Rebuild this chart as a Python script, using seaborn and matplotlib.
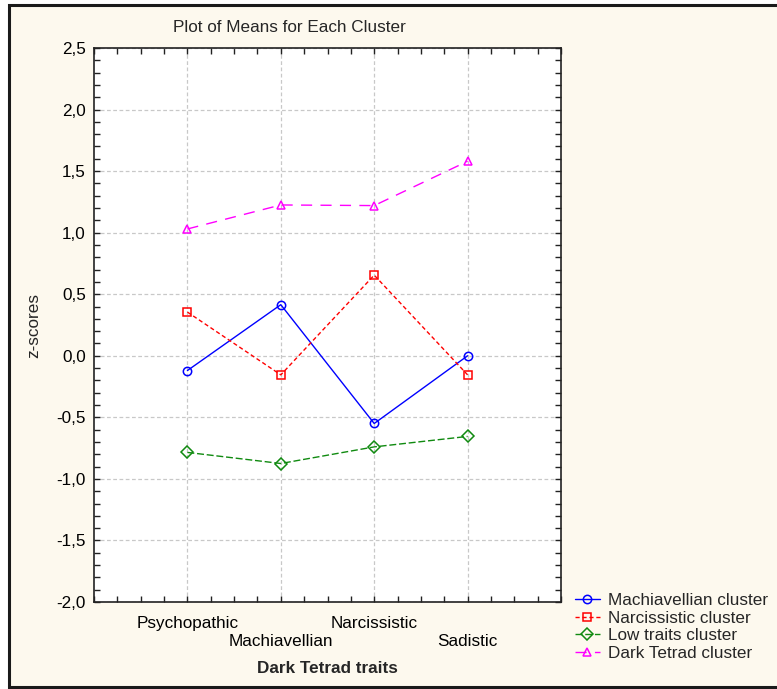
import matplotlib
matplotlib.use("Agg")
import matplotlib.pyplot as plt
import matplotlib.ticker as mticker
from matplotlib.patches import Rectangle
import seaborn as sns
import pandas as pd

traits = ["Psychopathic", "Machiavellian", "Narcissistic", "Sadistic"]
clusters = ["Machiavellian cluster", "Narcissistic cluster",
            "Low traits cluster", "Dark Tetrad cluster"]
machiavellian = [-0.12, 0.415, -0.55, 0.0]
narcissistic = [0.355, -0.155, 0.655, -0.155]
low_traits = [-0.785, -0.875, -0.74, -0.655]
dark_tetrad = [1.03, 1.225, 1.22, 1.58]

series = [machiavellian, narcissistic, low_traits, dark_tetrad]
rows = []
for name, vals in zip(clusters, series):
    for t, v in zip(traits, vals):
        rows.append({"trait": t, "cluster": name, "z": v})
df = pd.DataFrame(rows)

sns.set_theme(style="white")
plt.rcParams["font.family"] = ["Liberation Sans", "DejaVu Sans"]
FS = 12.3

colors = {clusters[0]: "#0000FF", clusters[1]: "#FF0000",
          clusters[2]: "#108A10", clusters[3]: "#FF00FF"}
markers = {clusters[0]: "o", clusters[1]: "s", clusters[2]: "D", clusters[3]: "^"}
dashes = {clusters[0]: "", clusters[1]: (3, 2), clusters[2]: (5, 2), clusters[3]: (8, 6)}
msizes = {clusters[0]: 6, clusters[1]: 6, clusters[2]: 6, clusters[3]: 6}

fig = plt.figure(figsize=(7.77, 6.89), dpi=100, facecolor="white")
# figure frame
fig.patches.append(Rectangle((9 / 777, 2 / 689), 1.0, 682 / 689,
                             transform=fig.transFigure, facecolor="#FDF9EE",
                             edgecolor="#1a1a1a", linewidth=2.2, zorder=-10))

ax = fig.add_axes([94 / 777, 1 - 602 / 689, (561 - 94) / 777, (602 - 48) / 689])
ax.set_facecolor("white")

sns.lineplot(data=df, x="trait", y="z", hue="cluster", style="cluster",
             hue_order=clusters, style_order=clusters, palette=colors,
             markers=markers, dashes=dashes, linewidth=1.0, legend=False,
             sort=False, ax=ax, zorder=3)

for line, name in zip(ax.get_lines(), clusters):
    c = colors[name]
    line.set_markerfacecolor("none")
    line.set_markeredgecolor(c)
    line.set_markeredgewidth(1.1)
    line.set_markersize(msizes[name])
    line.set_label(name)

ax.set_xlim(-1, 4)
ax.set_ylim(-2.0, 2.5)
ax.yaxis.set_major_locator(mticker.MultipleLocator(0.5))
ax.yaxis.set_minor_locator(mticker.MultipleLocator(0.1))
ax.yaxis.set_major_formatter(mticker.FuncFormatter(lambda v, p: f"{v:.1f}".replace(".", ",")))
ax.set_xticks(range(len(traits)))
ax.set_xticklabels([t if i % 2 == 0 else "\n" + t for i, t in enumerate(traits)])
ax.xaxis.set_minor_locator(mticker.MultipleLocator(0.25))

ax.tick_params(which="both", direction="in", top=True, right=True,
               bottom=True, left=True, color="#222222", labelsize=FS)
ax.tick_params(which="major", length=4, width=1)
ax.tick_params(which="minor", length=4, width=1)
ax.tick_params(axis="x", which="major", pad=10)
ax.tick_params(axis="y", which="major", pad=6)

ax.grid(True, which="major", color="#C8C8C8", linestyle=(0, (3, 2)), linewidth=0.9)
for s in ax.spines.values():
    s.set_color("#222222")
    s.set_linewidth(1.2)
    s.set_visible(True)

for lab in ax.get_xticklabels() + ax.get_yticklabels():
    lab.set_color("black")
for lab in ax.get_xticklabels():
    lab.set_linespacing(1.3)
ax.set_xlabel("Dark Tetrad traits", fontsize=FS, fontweight="bold", labelpad=8)
ax.set_ylabel("z-scores", fontsize=FS, labelpad=11)

fig.text(289 / 777, 1 - 28 / 689, "Plot of Means for Each Cluster",
         ha="center", va="center", fontsize=FS)

fig.legend(handles=ax.get_lines(), labels=clusters, loc="upper left",
           bbox_to_anchor=(575 / 777, 1 - 593 / 689), frameon=False,
           fontsize=FS, handlelength=1.45, handletextpad=0.5,
           labelspacing=0.16, borderaxespad=0, borderpad=0)

fig.savefig("out.png", dpi=100, facecolor="white")
